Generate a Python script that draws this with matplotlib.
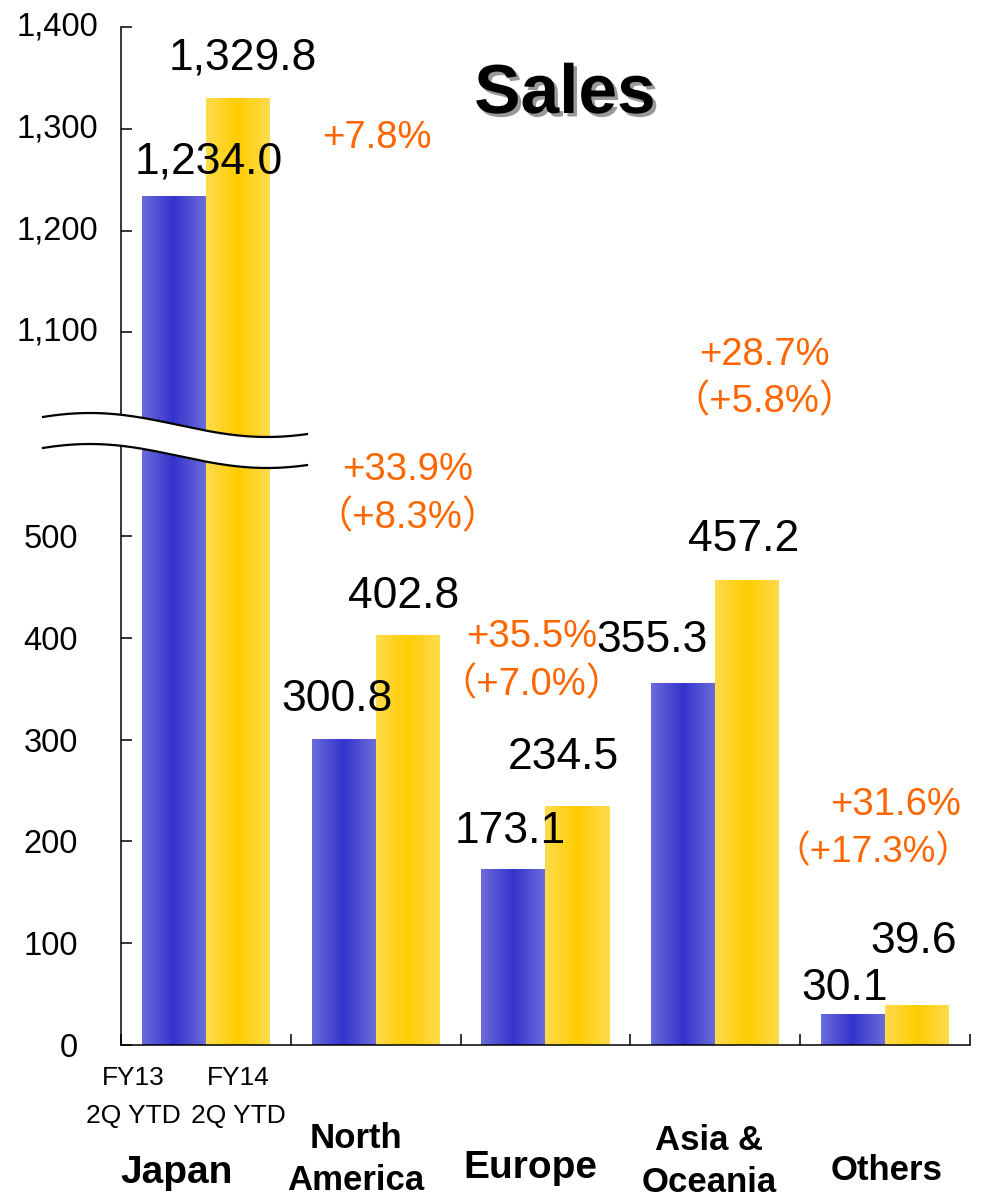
import numpy as np
import matplotlib
matplotlib.use('Agg')
import matplotlib.pyplot as plt
import matplotlib.patheffects as pe
from matplotlib.colors import to_rgb

plt.rcParams['font.family'] = ['Liberation Sans', 'Noto Sans CJK JP']

# Dados (bilhões de ienes)
regioes = ['Japan', 'North\nAmerica', 'Europe', 'Asia &\nOceania', 'Others']
fy13 = [1234.0, 300.8, 173.1, 355.3, 30.1]
fy14 = [1329.8, 402.8, 234.5, 457.2, 39.6]
cresc = ['+7.8%', '+33.9%', '+35.5%', '+28.7%', '+31.6%']
cresc_local = ['', '（+8.3%）', '（+7.0%）', '（+5.8%）', '（+17.3%）']
yticks_baixo = [0, 100, 200, 300, 400, 500]
yticks_alto = [1100, 1200, 1300, 1400]

# deslocamentos dos rótulos (pixels)
off13 = [(35, 34), (-7, 39), (-3, 37), (-31, 43), (-8, 26)]
off14 = [(5, 40), (-4, 38), (-14, 49), (-4, 40), (-3, 63)]
off_pct = [(139, -40), (0, 165), (-46, 169), (17, 225), (-22, 200)]
off_pct2 = [(0, 0), (0, 117), (-46, 121), (17, 177), (-44, 152)]
tam_pct2 = [27.5, 27.5, 27.5, 27.5, 26.5]
off_reg = [(-29, -128), (-20, -114), (-15, -123), (-6, -116), (1, -125)]

fig = plt.figure(figsize=(9.86, 11.98), dpi=100)
ax = fig.add_axes([121/986, (1198-1045)/1198, (970-121)/986, (1045-27)/1198])

# eixo y com quebra (600 ~ 1000 comprimido)
b_in = [-1e4, 560, 1040, 1e5]
b_out = [-1e4, 560, 640, 1e5 - 400]
ax.set_yscale('function', functions=(lambda v: np.interp(v, b_in, b_out),
                                     lambda p: np.interp(p, b_out, b_in)))

w = 0.377


def barra_grad(x, h, borda, meio, n=40):
    borda = np.array(to_rgb(borda))
    meio = np.array(to_rgb(meio))
    t = (np.arange(n) + 0.5) / n
    k = np.abs(t - 0.5) * 2
    cores = meio + (borda - meio) * k[:, None]
    xs = x - w/2 + t*w
    ax.bar(xs, [h]*n, width=w/n*1.06, color=cores, linewidth=0, zorder=2)


x = np.arange(len(regioes))
for i in x:
    barra_grad(i - w/2, fy13[i], '#6b6bdb', '#3333cc')
    barra_grad(i + w/2, fy14[i], '#ffdb4d', '#ffcc00')
    ax.annotate(f'{fy13[i]:,.1f}', (i - w/2, fy13[i]), xytext=off13[i],
                textcoords='offset pixels', ha='center', va='center', fontsize=32, zorder=7)
    ax.annotate(f'{fy14[i]:,.1f}', (i + w/2, fy14[i]), xytext=off14[i],
                textcoords='offset pixels', ha='center', va='center', fontsize=32, zorder=7)
    ax.annotate(cresc[i], (i + w/2, fy14[i]), xytext=off_pct[i],
                textcoords='offset pixels', ha='center', va='center', fontsize=27.5,
                color='#ff6600', zorder=7)
    if cresc_local[i]:
        ax.annotate(cresc_local[i], (i + w/2, fy14[i]), xytext=off_pct2[i],
                    textcoords='offset pixels', ha='center', va='center',
                    fontsize=tam_pct2[i], color='#ff6600', zorder=7)
    linhas = regioes[i].split('\n')
    dx, dy = off_reg[i]
    tam = 28 if len(linhas) == 1 and i < 3 else 25
    for j, l in enumerate(linhas):
        yy = dy if len(linhas) == 1 else dy + 21 - 42*j
        ax.annotate(l, (i, 0), xytext=(dx, yy), textcoords='offset pixels',
                    ha='center', va='center', fontsize=tam, fontweight='bold',
                    annotation_clip=False)

# legenda dos anos sob as barras do Japão
for lab, xb, dx in [('FY13', -w/2, -41), ('FY14', w/2, 0)]:
    ax.annotate(lab, (xb, 0), xytext=(dx, -33), textcoords='offset pixels',
                ha='center', va='center', fontsize=19, annotation_clip=False)
    ax.annotate('2Q YTD', (xb, 0), xytext=(dx, -71), textcoords='offset pixels',
                ha='center', va='center', fontsize=19, annotation_clip=False)

ax.set_xlim(-0.5, 4.5)
ax.set_ylim(0, 1400)
ax.set_xticks(np.arange(-0.5, 5, 1))
ax.set_xticklabels([])
ax.set_yticks(yticks_baixo + yticks_alto)
ax.set_yticklabels([f'{v:,}' for v in yticks_baixo] + [''] * len(yticks_alto))
for v in yticks_alto:
    ax.text(-0.027, v, f'{v:,}', transform=ax.get_yaxis_transform(),
            ha='right', va='center', fontsize=23.5)
ax.tick_params(axis='y', direction='in', length=8, width=1.1, pad=31, labelsize=23.5)
ax.tick_params(axis='x', direction='in', length=8, width=1.1)
for s in ['top', 'right']:
    ax.spines[s].set_visible(False)
for s in ['left', 'bottom']:
    ax.spines[s].set_linewidth(1.1)

# marca de quebra ondulada
px = np.linspace(43, 307, 200)
topo = 425 - 12*np.cos(np.pi*(px - 90)/177)
base = topo + 31
fx = (px - 121) / 849
ax.fill(np.r_[fx, fx[::-1]], np.r_[(1045 - topo)/1018, (1045 - base[::-1])/1018],
        color='white', transform=ax.transAxes, clip_on=False, zorder=5)
ax.plot(fx, (1045 - topo)/1018, 'k', lw=1.6, transform=ax.transAxes, clip_on=False, zorder=6)
ax.plot(fx, (1045 - base)/1018, 'k', lw=1.6, transform=ax.transAxes, clip_on=False, zorder=6)

fig.text(565/986, 1 - 95/1198, 'Sales', ha='center', va='center', fontsize=50,
         fontweight='bold',
         path_effects=[pe.withSimplePatchShadow(offset=(2.5, -2.5), shadow_rgbFace='#999999', alpha=1)])

fig.savefig('out.png', dpi=100)
